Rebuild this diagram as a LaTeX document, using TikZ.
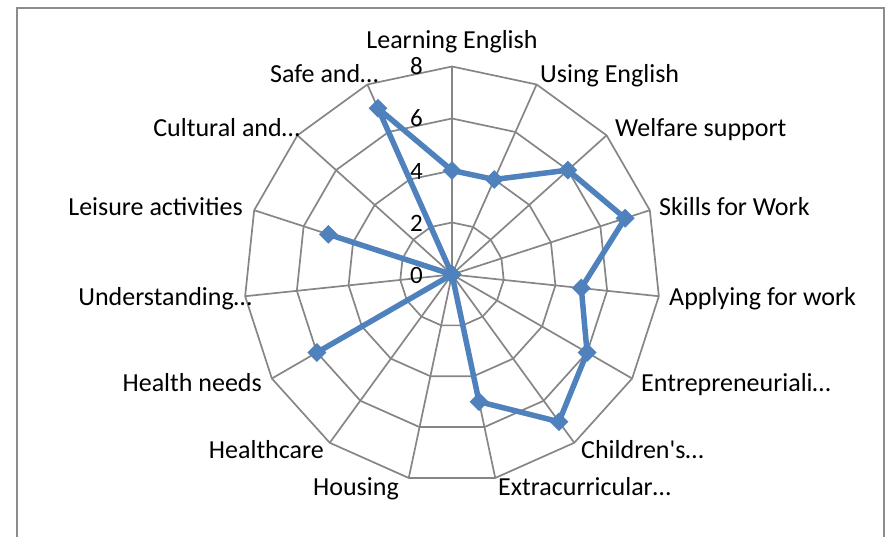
\documentclass[tikz,border=0pt]{standalone}
\usepackage{fontspec}
\setmainfont{Carlito}[Ligatures=TeXOff]
\usetikzlibrary{shapes.geometric}
\definecolor{gridgray}{HTML}{868686}
\definecolor{framegray}{HTML}{8C8C8C}
\definecolor{series}{HTML}{4F81BD}
\begin{document}
\begin{tikzpicture}[x=1pt,y=1pt,
  grid/.style={draw=gridgray, line width=1.7pt},
  frame/.style={draw=framegray, line width=2pt},
  cat/.style={font=\fontsize{26}{30}\selectfont, inner sep=0pt},
  tick/.style={font=\fontsize{25}{29}\selectfont, inner sep=0pt, anchor=base east},
  serie/.style={draw=series, line width=5.5pt, line join=round},
  marker/.style={diamond, fill=series, inner sep=0pt, minimum size=19pt}]
\useasboundingbox (-452,-261.5) rectangle (434,274.5);
\draw[frame] (-435,-262) -- (-435,266.5) -- (432,266.5) -- (432,-262);
\coordinate (O) at (0,0);
% grid rings
\foreach \r in {52,104,156,208} {
  \draw[grid] (90:\r) \foreach \k in {1,...,14} { -- ({90-24*\k}:\r) } -- cycle;
}
% spokes
\foreach \k in {0,...,14} {
  \coordinate (a\k) at ({90-24*\k}:208);
  \draw[grid] (O) -- (a\k);
}
% tick labels
\node[tick] (t0) at (-29,-8.5) {0};
\node[tick] (t2) at (-29,43.5) {2};
\node[tick] (t4) at (-29,95.5) {4};
\node[tick] (t6) at (-29,147.5) {6};
\node[tick] (t8) at (-29,199.5) {8};
% category labels
\node[cat, anchor=base] (l0) at (0,225.5) {Learning English};
\node[cat, anchor=base west] (l1) at (88,191.5) {Using English};
\node[cat, anchor=base west] (l2) at (163,138) {Welfare support};
\node[cat, anchor=base west] (l3) at (207,59) {Skills for Work};
\node[cat, anchor=base west] (l4) at (217,-30.5) {Applying for work};
\node[cat, anchor=base west] (l5) at (189,-116.5) {Entrepreneuriali…};
\node[cat, anchor=base west] (l6) at (129,-183.5) {Children's…};
\node[cat, anchor=base west] (l7) at (46,-220.5) {Extracurricular…};
\node[cat, anchor=base east] (l8) at (-53,-220.5) {Housing};
\node[cat, anchor=base east] (l9) at (-128,-183.5) {Healthcare};
\node[cat, anchor=base east] (l10) at (-190,-116.5) {Health needs};
\node[cat, anchor=base east] (l11) at (-200,-30.5) {Understanding…};
\node[cat, anchor=base east] (l12) at (-209,59) {Leisure activities};
\node[cat, anchor=base east] (l13) at (-152,138) {Cultural and…};
\node[cat, anchor=base west] (l14) at (-182,191.5) {Safe and…};
% data
\foreach \v [count=\i from 0] in {4,4,6,7,5,6,7,5,0,0,6,0,5,0,7}
  \coordinate (c\i) at ({90-24*\i}:{26*\v});
\draw[serie] (c0) -- (c1) -- (c2) -- (c3) -- (c4) -- (c5) -- (c6) -- (c7)
  -- (c8) -- (c9) -- (c10) -- (c11) -- (c12) -- (c13) -- (c14) -- cycle;
\foreach \i in {0,...,14}
  \node[marker] (m\i) at (c\i) {};
\end{tikzpicture}
\end{document}
